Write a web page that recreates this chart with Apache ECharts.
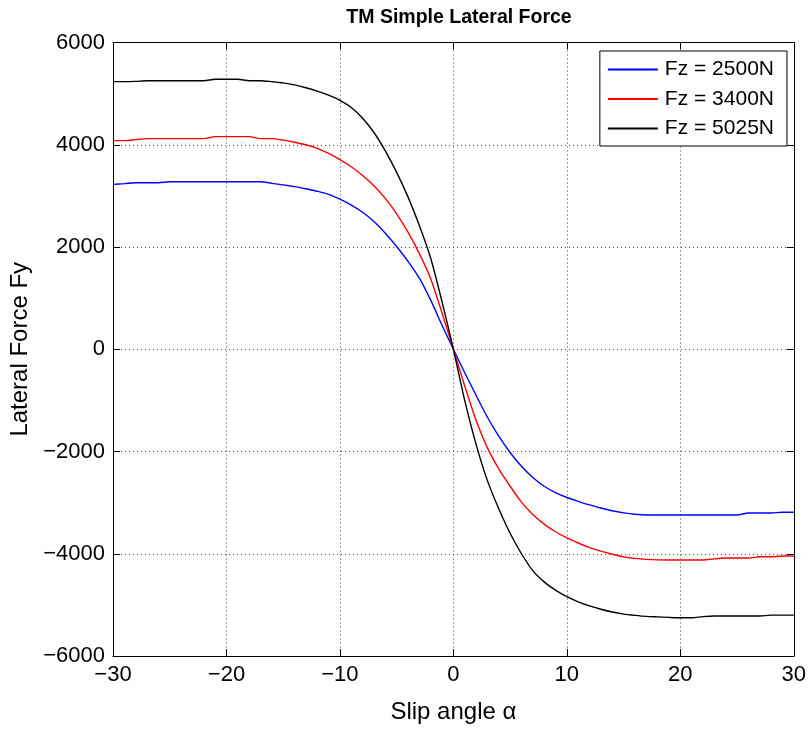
<!DOCTYPE html>
<html>
<head>
<meta charset="utf-8">
<script src="https://cdn.jsdelivr.net/npm/echarts@6/dist/echarts.min.js"></script>
<style>
html,body{margin:0;padding:0;background:#fff;}
#chart{width:809px;height:729px;}
</style>
</head>
<body>
<div id="chart"></div>
<script>
// Slip angle (deg)
var alpha = [-30,-29,-28,-27,-26,-25,-24,-23,-22,-21,-20,-19,-18,-17,-16,-15,-14,-13,-12,-11,-10,-9,-8,-7,-6,-5,-4,-3,-2,-1,0,1,2,3,4,5,6,7,8,9,10,11,12,13,14,15,16,17,18,19,20,21,22,23,24,25,26,27,28,29,30];

var fy2500 = [3225,3240,3258,3258,3258,3277,3277,3277,3277,3277,3277,3277,3277,3277,3245,3215,3180,3140,3090,3030,2935,2820,2680,2500,2270,2010,1720,1390,960,470,0,-460,-900,-1330,-1700,-2020,-2290,-2510,-2680,-2805,-2900,-2975,-3045,-3105,-3160,-3200,-3228,-3241,-3241,-3241,-3241,-3241,-3241,-3241,-3241,-3241,-3202,-3202,-3202,-3189,-3189];

var fy3400 = [4081,4081,4100,4120,4120,4120,4120,4120,4120,4159,4159,4159,4159,4120,4120,4090,4050,4000,3930,3830,3711,3570,3400,3200,2950,2650,2290,1870,1380,708,0,-720,-1390,-1930,-2340,-2680,-2990,-3230,-3420,-3570,-3690,-3790,-3880,-3950,-4010,-4060,-4090,-4110,-4120,-4123,-4123,-4123,-4123,-4100,-4084,-4084,-4084,-4060,-4060,-4045,-4045];

var fy5025 = [5234,5234,5240,5253,5253,5253,5253,5253,5253,5281,5281,5281,5253,5253,5234,5210,5170,5115,5050,4970,4870,4730,4520,4240,3880,3460,2980,2420,1780,930,0,-1000,-1860,-2570,-3120,-3600,-4000,-4330,-4550,-4710,-4840,-4940,-5020,-5085,-5140,-5180,-5205,-5225,-5235,-5245,-5252,-5252,-5230,-5219,-5219,-5219,-5219,-5219,-5200,-5200,-5200];

var seriesNames = ['Fz = 2500N','Fz = 3400N','Fz = 5025N'];
var seriesColors = ['#0000ff','#ff0000','#000000'];
var xTicks = {min:-30, max:30, interval:10};
var yTicks = {min:-6000, max:6000, interval:2000};

function pairs(ys){ return alpha.map(function(a,i){ return [a, ys[i]]; }); }
function fmt(v){ return v < 0 ? '\u2212' + Math.abs(v) : String(v); }

var FONT = '"Liberation Sans", Arial, Helvetica, sans-serif';
var chart = echarts.init(document.getElementById('chart'), null, {renderer:'canvas'});

var grid = {left:113, right:14, top:42.5, bottom:70};
var axisLineStyle = {color:'#000', width:1};
var gridLine = {show:true, lineStyle:{color:'#444', width:1, type:[1,3]}};

var option = {
  animation:false,
  backgroundColor:'#fff',
  title:{
    text:'TM Simple Lateral Force',
    left:454, top:3, textAlign:'center',
    textStyle:{fontFamily:FONT, fontSize:19.5, fontWeight:'bold', color:'#000'}
  },
  legend:{
    data:seriesNames.map(function(n){ return {name:n, icon:'rect'}; }),
    orient:'vertical',
    right:22, top:51,
    backgroundColor:'#fff',
    borderColor:'#000', borderWidth:1, borderRadius:0,
    padding:[8,13,7,8],
    itemWidth:50, itemHeight:2, itemGap:8.5,
    textStyle:{fontFamily:FONT, fontSize:21, lineHeight:21, color:'#000', padding:[0,0,0,2]}
  },
  grid:grid,
  xAxis:[{
    type:'value', min:xTicks.min, max:xTicks.max, interval:xTicks.interval,
    position:'bottom',
    name:'Slip angle \u03b1', nameLocation:'middle', nameGap:44,
    nameTextStyle:{fontFamily:FONT, fontSize:24, color:'#000'},
    axisLine:{show:true, onZero:false, lineStyle:axisLineStyle},
    axisTick:{show:true, inside:true, length:7, lineStyle:axisLineStyle},
    axisLabel:{fontFamily:FONT, fontSize:22, color:'#000', margin:8, formatter:fmt},
    splitLine:gridLine
  },{
    type:'value', min:xTicks.min, max:xTicks.max, interval:xTicks.interval,
    position:'top',
    axisLine:{show:true, onZero:false, lineStyle:axisLineStyle},
    axisTick:{show:true, inside:true, length:7, lineStyle:axisLineStyle},
    axisLabel:{show:false}, splitLine:{show:false}
  }],
  yAxis:[{
    type:'value', min:yTicks.min, max:yTicks.max, interval:yTicks.interval,
    position:'left',
    name:'Lateral Force Fy', nameLocation:'middle', nameGap:76,
    nameTextStyle:{fontFamily:FONT, fontSize:24, color:'#000'},
    axisLine:{show:true, onZero:false, lineStyle:axisLineStyle},
    axisTick:{show:true, inside:true, length:7, lineStyle:axisLineStyle},
    axisLabel:{fontFamily:FONT, fontSize:22, color:'#000', margin:8, formatter:fmt},
    splitLine:gridLine
  },{
    type:'value', min:yTicks.min, max:yTicks.max, interval:yTicks.interval,
    position:'right',
    axisLine:{show:true, onZero:false, lineStyle:axisLineStyle},
    axisTick:{show:true, inside:true, length:7, lineStyle:axisLineStyle},
    axisLabel:{show:false}, splitLine:{show:false}
  }],
  series:[fy2500, fy3400, fy5025].map(function(ys, i){
    return {
      name:seriesNames[i], type:'line', data:pairs(ys),
      xAxisIndex:0, yAxisIndex:0,
      symbol:'none', smooth:0.25,
      lineStyle:{color:seriesColors[i], width:1.4},
      itemStyle:{color:seriesColors[i]}
    };
  })
};
chart.setOption(option);
</script>
</body>
</html>
